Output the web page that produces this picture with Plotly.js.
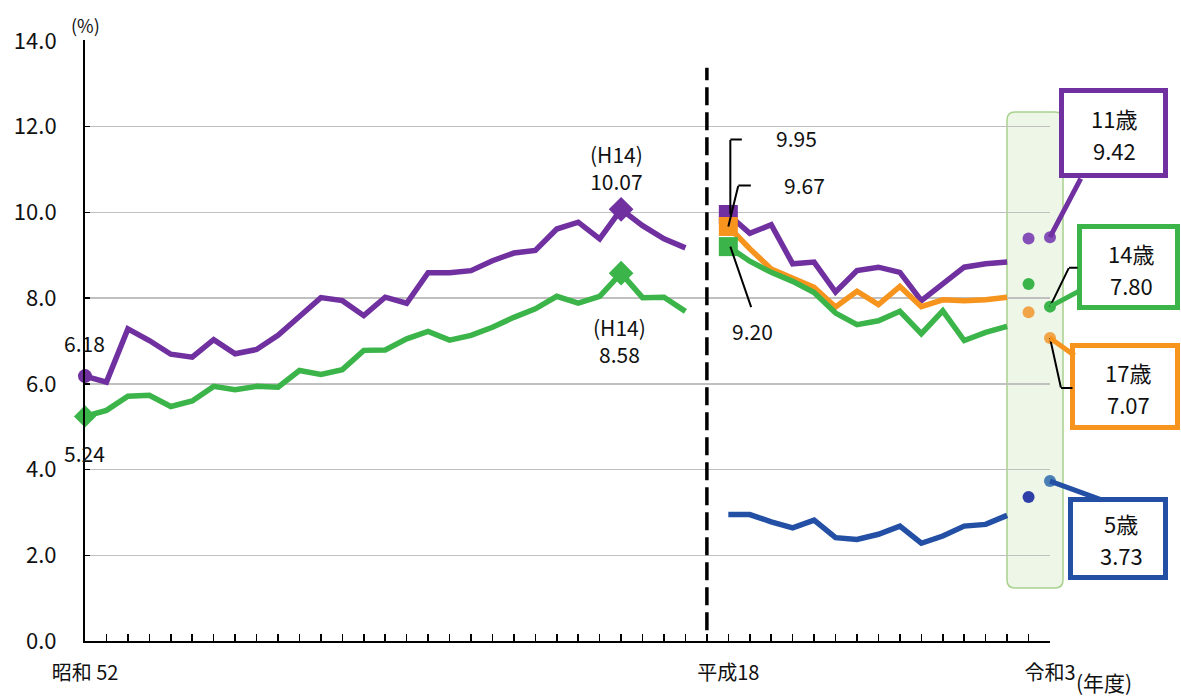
<!DOCTYPE html>
<html>
<head>
<meta charset="utf-8">
<script src="https://cdn.plot.ly/plotly-3.0.1.min.js"></script>
<style>html,body{margin:0;padding:0;background:#fff}</style>
</head>
<body>
<div id="chart" style="width:1181px;height:698px"></div>
<script>
// ---------- data ----------
const yearsLeft = [1977,1978,1979,1980,1981,1982,1983,1984,1985,1986,1987,1988,1989,1990,1991,1992,1993,1994,1995,1996,1997,1998,1999,2000,2001,2002,2003,2004,2005];
const yearsRight = [2006,2007,2008,2009,2010,2011,2012,2013,2014,2015,2016,2017,2018,2019];
const yearsCovid = [2020,2021];
const axisCategories = [...yearsLeft, null, ...yearsRight, ...yearsCovid];

const tickYears = [1977, 2006, 2021];
const tickLabels = ['昭和 52', '平成18', '令和3'];
const yTicks = [0, 2, 4, 6, 8, 10, 12, 14];

// 11歳 (purple) and 14歳 (green), 昭和52〜平成17
const age11Left = [6.18,6.04,7.28,7.01,6.69,6.62,7.03,6.70,6.80,7.13,7.57,8.01,7.94,7.59,8.02,7.88,8.59,8.59,8.64,8.87,9.05,9.11,9.61,9.77,9.38,10.07,9.69,9.38,9.17];
const age14Left = [5.24,5.38,5.71,5.73,5.47,5.60,5.94,5.86,5.94,5.92,6.31,6.22,6.33,6.78,6.79,7.05,7.22,7.02,7.13,7.32,7.55,7.75,8.04,7.88,8.04,8.58,8.01,8.02,7.69];

// 平成18〜令和元
const age11Right = [9.95,9.51,9.71,8.80,8.84,8.14,8.64,8.72,8.60,7.94,8.33,8.72,8.80,8.84];
const age17Right = [9.67,9.15,8.68,8.45,8.25,7.79,8.16,7.85,8.27,7.80,7.96,7.94,7.96,8.02];
const age14Right = [9.20,8.86,8.60,8.39,8.13,7.65,7.38,7.47,7.69,7.17,7.70,7.01,7.20,7.34];
const age5Right  = [2.95,2.95,2.78,2.64,2.82,2.41,2.37,2.49,2.68,2.28,2.45,2.68,2.72,2.93];

// 令和2, 令和3
const age11Covid = [9.39, 9.42];
const age14Covid = [8.33, 7.80];
const age17Covid = [7.67, 7.07];
const age5Covid  = [3.36, 3.73];

const ageLabels = {a5:'5歳', a11:'11歳', a14:'14歳', a17:'17歳'};

// ---------- helpers ----------
const FONT = '"Noto Sans CJK JP", "Noto Sans", sans-serif';
const C = {p:'#7030a0', g:'#3bb449', o:'#f7941d', b:'#2350a5'};
const pos = y => axisCategories.indexOf(y);
const fmt1 = v => v.toFixed(1);
const fmt2 = v => v.toFixed(2);
const argmax = a => a.indexOf(Math.max(...a));

const line = (years, vals, color) => ({
  type:'scatter', mode:'lines', x: years.map(pos), y: vals,
  line:{color, width:5.5}, hoverinfo:'skip', cliponaxis:false
});
const pts = (xs, ys, color, symbol, size) => ({
  type:'scatter', mode:'markers', x: xs, y: ys,
  marker:{color, symbol, size, line:{width:0}}, hoverinfo:'skip', cliponaxis:false
});

const pk11 = argmax(age11Left), pk14 = argmax(age14Left);

const traces = [
  line(yearsLeft, age11Left, C.p),
  line(yearsLeft, age14Left, C.g),
  line(yearsRight, age11Right, C.p),
  line(yearsRight, age17Right, C.o),
  line(yearsRight, age14Right, C.g),
  line(yearsRight, age5Right, C.b),
  pts([pos(yearsLeft[0])], [age11Left[0]], C.p, 'circle', 14),
  pts([pos(yearsLeft[0])], [age14Left[0]], C.g, 'diamond', 17),
  pts([pos(yearsLeft[pk11])], [age11Left[pk11]], C.p, 'diamond', 19),
  pts([pos(yearsLeft[pk14])], [age14Left[pk14]], C.g, 'diamond', 19),
  pts([pos(yearsRight[0])], [age11Right[0]], C.p, 'square', 19),
  pts([pos(yearsRight[0])], [age17Right[0]], C.o, 'square', 19),
  pts([pos(yearsRight[0])], [age14Right[0]], C.g, 'square', 19),
  pts(yearsCovid.map(pos), age11Covid, '#8450b8', 'circle', 12),
  pts(yearsCovid.map(pos), age14Covid, '#3bb449', 'circle', 12),
  pts(yearsCovid.map(pos), age17Covid, '#f2a448', 'circle', 12),
  pts(yearsCovid.map(pos), age5Covid, ['#2f3fa8', '#4a7fb5'], 'circle', 12)
];

// ---------- annotations ----------
const txtFont = {family:FONT, size:21, color:'#111'};
const ann = [];
const label = (x, y, text, xshift, yshift, extra) => ann.push(Object.assign({
  x, y, xref:'x', yref:'y', text, showarrow:false, xshift, yshift, borderpad:0,
  font:txtFont, xanchor:'center', yanchor:'middle'
}, extra || {}));
const lead = (x, y, ax, ay, xshift, yshift, color, width) => ann.push({
  x, y, xref:'x', yref:'y', text:'', showarrow:true, arrowhead:0,
  arrowwidth: width || 2, arrowcolor: color || '#000', ax, ay, axref:'pixel', ayref:'pixel',
  xshift: xshift || 0, yshift: yshift || 0, borderpad:0, standoff:0, startstandoff:0
});

// start values (昭和52)
label(pos(yearsLeft[0]), age11Left[0], fmt2(age11Left[0]), -1, 33);
label(pos(yearsLeft[0]), age14Left[0], fmt2(age14Left[0]), -1, -37);
// peaks (H14)
label(pos(yearsLeft[pk11]), age11Left[pk11], '(H14)<br>' + fmt2(age11Left[pk11]), -5, 12, {yanchor:'bottom'});
label(pos(yearsLeft[pk14]), age14Left[pk14], '(H14)<br>' + fmt2(age14Left[pk14]), -2, -38, {yanchor:'top'});

// 平成18 start values with leader lines
const x06 = pos(yearsRight[0]);
label(x06, age11Right[0], fmt2(age11Right[0]), 68, 76);
lead(x06, age11Right[0], 0, -75, 2, 0);
lead(x06, age11Right[0], 12, 0, 2, 75);
label(x06, age17Right[0], fmt2(age17Right[0]), 76, 41);
lead(x06, age17Right[0], 10, -41, 0, 0);
lead(x06, age17Right[0], 13, 0, 10, 41);
label(x06, age14Right[0], fmt2(age14Right[0]), 24, -84);
lead(x06, age14Right[0], 21, 61, 2, 0);

// 令和3 callouts: box (shape), tail (arrow), two text lines
const x21 = pos(2021);
const PX = {l:85, r:1050, t:40, b:641};
const toPaperX = px => (px - PX.l) / (PX.r - PX.l);
const toPaperY = py => (PX.b - py) / (PX.b - PX.t);
const boxShapes = [];
const callout = (val, name, color, box, tail, textShift) => {
  boxShapes.push({type:'rect', xref:'paper', yref:'paper', layer:'above',
    x0:toPaperX(box[0]), x1:toPaperX(box[1]), y0:toPaperY(box[3]), y1:toPaperY(box[2]),
    fillcolor:'#ffffff', line:{color, width:5}});
  ann.push({
    x:x21, y:val, xref:'x', yref:'y', text:'', showarrow:true, arrowhead:0,
    arrowwidth:5, arrowcolor:color, ax:tail[0], ay:tail[1], axref:'pixel', ayref:'pixel',
    borderpad:0, standoff:0, startstandoff:0
  });
  const bf = {family:FONT, size:22, color:'#111'};
  label(x21, val, name, textShift[0], textShift[1] + 16, {font:bf});
  label(x21, val, fmt2(val), textShift[0], textShift[1] - 16, {font:bf});
};
// black leader lines for 14歳 / 17歳
lead(x21, age14Covid[1], 19, -39, 0, 0);
lead(x21, age14Covid[1], 9, 0, 19, 39);
lead(x21, age17Covid[1], 11, 50, 0, 0);
lead(x21, age17Covid[1], 12, 0, 11, -50);

// box: [left, right, top, bottom] in px; tail offset in px; text centre offset in px
callout(age11Covid[1], ageLabels.a11, C.p, [1061.5, 1165.5, 90.5, 175.5], [31, -59], [64, 103]);
callout(age14Covid[1], ageLabels.a14, C.g, [1079.5, 1177.5, 226.5, 307.5], [30, -16], [81, 38]);
callout(age17Covid[1], ageLabels.a17, C.o, [1072.5, 1177.5, 345.5, 427.5], [25, 18], [78, -50]);
callout(age5Covid[1], ageLabels.a5, C.b, [1070.5, 1165.5, 499.5, 577.5], [52, 19], [71, -58]);

// axis captions
ann.push({xref:'paper', yref:'paper', x:0.001, y:1.025, text:'(%)', showarrow:false,
  font:{family:FONT, size:18, color:'#111'}, xanchor:'center', yanchor:'middle'});
ann.push({xref:'paper', yref:'paper', x:1.056, y:-0.068, text:'(年度)', showarrow:false,
  font:{family:FONT, size:21, color:'#111'}, xanchor:'center', yanchor:'middle'});

// ---------- shapes ----------
const gapPos = pos(yearsRight[0]) - 1;
const rx0 = toPaperX(1007), rx1 = toPaperX(1063), ry0 = toPaperY(588), ry1 = toPaperY(112);
const rrx = 8 / 965, rry = 8 / 601;
const roundRect = `M ${rx0+rrx},${ry0} L ${rx1-rrx},${ry0} Q ${rx1},${ry0} ${rx1},${ry0+rry} L ${rx1},${ry1-rry} Q ${rx1},${ry1} ${rx1-rrx},${ry1} L ${rx0+rrx},${ry1} Q ${rx0},${ry1} ${rx0},${ry1-rry} L ${rx0},${ry0+rry} Q ${rx0},${ry0} ${rx0+rrx},${ry0} Z`;
const shapes = [
  {type:'line', xref:'x', yref:'y', x0:gapPos, x1:gapPos, y0:0.25, y1:13.37,
   line:{color:'#000', width:3.5, dash:'18px,7px'}},
  {type:'path', xref:'paper', yref:'paper', path: roundRect, layer:'below',
   fillcolor:'rgba(222,238,212,0.55)', line:{color:'#a9d18e', width:1.5}},
  ...boxShapes
];

const layout = {
  width:1181, height:698,
  margin:{l:85, r:131, t:40, b:57},
  paper_bgcolor:'#ffffff', plot_bgcolor:'rgba(0,0,0,0)',
  showlegend:false,
  font:{family:FONT, color:'#111'},
  xaxis:{
    range:[0, 45], tickmode:'array', tickvals: tickYears.map(pos), ticktext: tickLabels,
    ticks:'inside', ticklen:7, tickwidth:1.5, tickcolor:'#000',
    showline:true, linecolor:'#000', linewidth:2, showgrid:false, zeroline:false,
    tickfont:{family:FONT, size:20, color:'#111'}, ticklabelstandoff:13,
    minor:{tickmode:'linear', tick0:0, dtick:1, ticks:'inside', ticklen:7, tickwidth:1.5, tickcolor:'#000', showgrid:false},
    fixedrange:true
  },
  yaxis:{
    range:[0, 14.02], tickmode:'array', tickvals: yTicks, ticktext: yTicks.map(fmt1),
    ticks:'inside', ticklen:5, tickwidth:1.5, tickcolor:'#000',
    showline:true, linecolor:'#000', linewidth:2,
    showgrid:true, gridcolor:'#c0c0c0', gridwidth:1.5, zeroline:false,
    tickfont:{family:FONT, size:22, color:'#111'}, ticklabelstandoff:22,
    fixedrange:true
  },
  annotations: ann,
  shapes
};

Plotly.newPlot('chart', traces, layout, {displayModeBar:false, staticPlot:true});
</script>
</body>
</html>
